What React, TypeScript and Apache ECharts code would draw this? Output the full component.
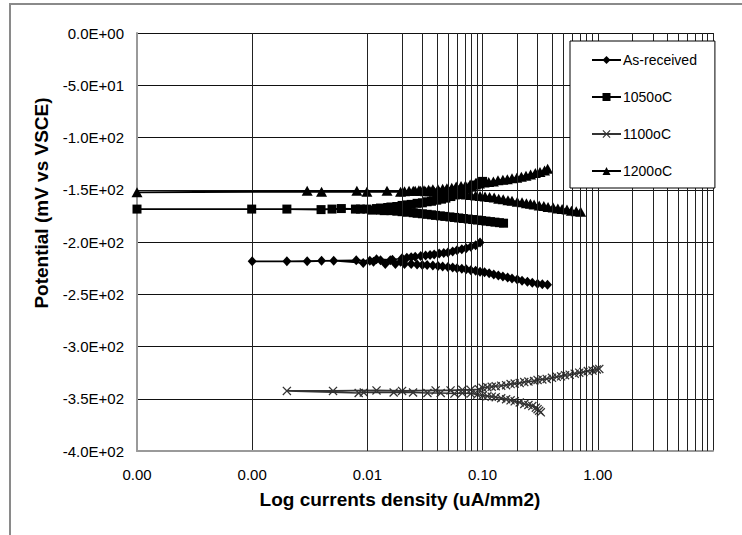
import React, { useEffect, useRef } from 'react';
import * as echarts from 'echarts';

const FONT = 'Arial, "Liberation Sans", Helvetica, sans-serif';

const seriesNames = ['As-received', '1050oC', '1100oC', '1200oC'];
const xTitle = 'Log currents density (uA/mm2)';
const yTitle = 'Potential (mV vs VSCE)';

// x axis (log) decades and minor multipliers for the minor grid lines
const xDecades = [0.0001, 0.001, 0.01, 0.1, 1];
const minorMultipliers = [2, 3, 4, 5, 6, 7, 8, 9];

// [current density uA/mm2, potential mV]
const asReceived: [number, number][] = [
  [0.366, -241], [0.33, -240.5], [0.30, -240], [0.27, -239], [0.245, -238], [0.22, -237], [0.20, -236],
  [0.18, -235], [0.165, -234], [0.15, -233], [0.137, -232], [0.125, -231], [0.114, -230], [0.104, -229],
  [0.095, -228.5], [0.087, -227.5], [0.079, -227], [0.072, -226], [0.066, -225.5], [0.060, -225],
  [0.055, -224.5], [0.050, -224], [0.045, -223.5], [0.041, -223], [0.037, -222.5], [0.033, -222],
  [0.030, -222], [0.027, -221.5], [0.024, -221], [0.021, -221],
  [0.0194, -219], [0.0175, -221], [0.0158, -217.5], [0.0143, -221], [0.013, -217.5], [0.0113, -219],
  [0.0092, -220], [0.0051, -218], [0.003, -218.5], [0.001, -218.5],
  [0.002, -218.5], [0.004, -218], [0.008, -217.5],
  [0.0105, -218], [0.012, -216.5], [0.0165, -217], [0.02, -215.5], [0.022, -215], [0.024, -214.5],
  [0.026, -214], [0.029, -213.5], [0.032, -213], [0.035, -212.5], [0.038, -212], [0.042, -211],
  [0.046, -210.5], [0.050, -210], [0.055, -209], [0.060, -208], [0.066, -207], [0.072, -206],
  [0.079, -204.5], [0.087, -203], [0.095, -200.5],
];

const c1050: [number, number][] = [
  [0.152, -182], [0.140, -181.5], [0.128, -181], [0.117, -180.5], [0.107, -180], [0.098, -179.5],
  [0.090, -179], [0.082, -178.5], [0.075, -178], [0.068, -177.5], [0.062, -177], [0.057, -176.5],
  [0.052, -176], [0.047, -175.5], [0.043, -175], [0.039, -174.5], [0.036, -174], [0.033, -173.5],
  [0.030, -173], [0.027, -172.5], [0.025, -172], [0.022, -171.5], [0.020, -171], [0.018, -170.5],
  [0.016, -170], [0.014, -170], [0.013, -169.5],
  [0.011, -169.5], [0.0087, -168.5], [0.00594, -168], [0.00396, -169], [0.002, -168.5], [0.0001, -168.5],
  [0.00099, -168.5], [0.00493, -168.5], [0.00787, -168.5], [0.0099, -168.5],
  [0.012, -168], [0.013, -167.5], [0.015, -167], [0.016, -166.5], [0.018, -166], [0.020, -165],
  [0.022, -164.5], [0.024, -164], [0.027, -163], [0.030, -162.5], [0.033, -161.5], [0.036, -161],
  [0.040, -160], [0.044, -159], [0.048, -158], [0.053, -156.5], [0.058, -155], [0.063, -153.5],
  [0.069, -151.5], [0.075, -149.5], [0.081, -147.5], [0.088, -145.5], [0.094, -143.5], [0.100, -142],
];

const c1100: [number, number][] = [
  [0.32, -363], [0.31, -361.5], [0.30, -360], [0.29, -358.5], [0.27, -357], [0.25, -356], [0.23, -355],
  [0.21, -353.5], [0.19, -352.5], [0.175, -351.5], [0.16, -350.5], [0.145, -349.5], [0.13, -348.5],
  [0.12, -348], [0.11, -347.5], [0.10, -347], [0.09, -346],
  [0.0788, -345], [0.0667, -344.5], [0.057, -345], [0.0433, -344.5], [0.0332, -344.5], [0.0249, -344],
  [0.0169, -344], [0.0093, -344], [0.0084, -344.5], [0.002, -342.5],
  [0.00503, -342.5], [0.012, -342], [0.020, -342.5], [0.0391, -342], [0.0527, -342], [0.0667, -341.5],
  [0.0788, -341.5], [0.093, -341],
  [0.10, -339.5], [0.11, -339], [0.12, -338.5], [0.13, -338], [0.145, -337.5], [0.16, -337], [0.175, -336],
  [0.19, -335.5], [0.21, -335], [0.23, -334], [0.25, -333.5], [0.28, -333], [0.30, -332], [0.33, -331.5],
  [0.36, -331], [0.40, -330], [0.44, -329], [0.48, -328.5], [0.52, -327.5], [0.57, -327], [0.63, -326],
  [0.69, -325], [0.75, -324.5], [0.82, -323.5], [0.90, -323], [0.98, -322], [1.03, -321.5],
];

const c1200: [number, number][] = [
  [0.71, -171], [0.65, -170.5], [0.59, -170], [0.54, -169], [0.49, -168.5], [0.45, -168], [0.41, -167],
  [0.37, -166.5], [0.34, -165.5], [0.31, -165], [0.28, -164], [0.26, -163.5], [0.24, -163], [0.22, -162],
  [0.20, -161.5], [0.18, -160.5], [0.166, -160], [0.151, -159], [0.138, -158.5], [0.126, -157.5],
  [0.115, -157], [0.105, -156.5], [0.095, -156], [0.087, -155.5], [0.079, -155], [0.072, -154.5],
  [0.066, -154], [0.060, -153.5], [0.055, -153], [0.050, -153], [0.046, -152.5], [0.042, -152],
  [0.038, -152], [0.035, -151.5], [0.032, -151.5], [0.029, -151], [0.026, -151],
  [0.0194, -152], [0.0099, -152], [0.004, -152], [0.0001, -152.5],
  [0.003, -151], [0.0081, -151], [0.0148, -151],
  [0.021, -151.5], [0.023, -151], [0.025, -151], [0.028, -150.5], [0.031, -150.5], [0.034, -150],
  [0.037, -149.5], [0.041, -149.5], [0.045, -149], [0.049, -148.5], [0.054, -148], [0.059, -147],
  [0.065, -146.5], [0.071, -146], [0.078, -145], [0.086, -144.5], [0.094, -144], [0.103, -143],
  [0.113, -142.5], [0.124, -142], [0.136, -141], [0.150, -140.5], [0.164, -140], [0.180, -139],
  [0.198, -138.5], [0.217, -137.5], [0.238, -136.5], [0.261, -135.5], [0.287, -134], [0.315, -133],
  [0.345, -131.5], [0.367, -130],
];

const X_SYMBOL = 'path://M0,1L1,0L5,4L9,0L10,1L6,5L10,9L9,10L5,6L1,10L0,9L4,5Z';

function sci(v: number): string {
  if (v === 0) return '0.0E+00';
  const e = Math.floor(Math.log10(Math.abs(v)) + 1e-9);
  const m = v / Math.pow(10, e);
  return m.toFixed(1) + 'E' + (e >= 0 ? '+' : '-') + String(Math.abs(e)).padStart(2, '0');
}

export default function App() {
  const ref = useRef<HTMLDivElement>(null);
  useEffect(() => {
    if (!ref.current) return;
    const chart = echarts.init(ref.current, null, { renderer: 'svg' });
    const minorValues: number[] = [];
    xDecades.forEach((d) => minorMultipliers.forEach((m) => minorValues.push(+(m * d).toPrecision(6))));

    const lineSeries = (name: string, data: [number, number][], symbol: string, size: any, color: string, lineColor: string) => ({
      name,
      type: 'line',
      data,
      symbol,
      symbolSize: size,
      showAllSymbol: true,
      z: 3,
      itemStyle: { color },
      lineStyle: { color: lineColor, width: 1.6 },
      emphasis: { disabled: true },
    });

    chart.setOption({
      animation: false,
      backgroundColor: '#ffffff',
      textStyle: { fontFamily: FONT },
      grid: { left: 137, right: 29, top: 33, bottom: 84, containLabel: false },
      xAxis: {
        type: 'log',
        logBase: 10,
        min: 0.0001,
        max: 10,
        axisLine: { show: true, onZero: false, lineStyle: { color: '#9a9a9a', width: 2 } },
        axisTick: { show: false },
        splitLine: { show: true, lineStyle: { color: '#222', width: 1 } },
        axisLabel: {
          formatter: (v: number) => v.toFixed(2),
          showMaxLabel: false,
          fontSize: 15,
          fontFamily: FONT,
          color: '#000',
          margin: 16,
        },
      },
      yAxis: {
        type: 'value',
        min: -400,
        max: 0,
        interval: 50,
        axisLine: { show: true, onZero: false, lineStyle: { color: '#9a9a9a', width: 2 } },
        axisTick: { show: false },
        splitLine: { show: true, lineStyle: { color: '#111', width: 1 } },
        axisLabel: { formatter: sci, fontSize: 15, fontFamily: FONT, color: '#000', margin: 13 },
      },
      legend: {
        data: seriesNames,
        orient: 'vertical',
        left: 570,
        top: 41,
        backgroundColor: '#fff',
        borderColor: '#000',
        borderWidth: 1,
        padding: [12, 18, 10, 21],
        itemWidth: 29,
        itemHeight: 10,
        itemGap: 23,
        textStyle: { fontFamily: FONT, fontSize: 14, color: '#000', padding: [0, 0, 0, -3] },
        z: 10,
      },
      graphic: [
        {
          type: 'rect',
          shape: { x: 10, y: 4, width: 900, height: 700 },
          style: { fill: 'none', stroke: '#8a8a8a', lineWidth: 2 },
          silent: true,
        },
        {
          type: 'text',
          x: 400,
          y: 499.5,
          style: { text: xTitle, font: `bold 19px ${FONT}`, fill: '#000', align: 'center', verticalAlign: 'middle' },
        },
        {
          type: 'text',
          x: 41,
          y: 203,
          rotation: Math.PI / 2,
          style: { text: yTitle, font: `bold 19px ${FONT}`, fill: '#000', align: 'center', verticalAlign: 'middle' },
        },
      ],
      series: [
        {
          name: 'minor-grid',
          type: 'line',
          data: [[0.0001, 0]],
          showSymbol: false,
          symbol: 'none',
          lineStyle: { width: 0, opacity: 0 },
          silent: true,
          z: 1,
          markLine: {
            silent: true,
            symbol: ['none', 'none'],
            label: { show: false },
            emphasis: { disabled: true },
            lineStyle: { color: '#222', width: 1, type: 'solid' },
            data: minorValues.map((v) => ({ xAxis: v })),
          },
        },
        lineSeries(seriesNames[0], asReceived, 'diamond', [9, 10], '#000', '#000'),
        lineSeries(seriesNames[1], c1050, 'rect', 9, '#000', '#000'),
        lineSeries(seriesNames[2], c1100, X_SYMBOL, 9, '#333', '#333'),
        lineSeries(seriesNames[3], c1200, 'triangle', [11, 10], '#000', '#000'),
      ],
    });
    return () => chart.dispose();
  }, []);
  return (
    <div
      ref={ref}
      style={{ position: 'absolute', left: 0, top: 0, width: 742, height: 535, background: '#fff' }}
    />
  );
}
